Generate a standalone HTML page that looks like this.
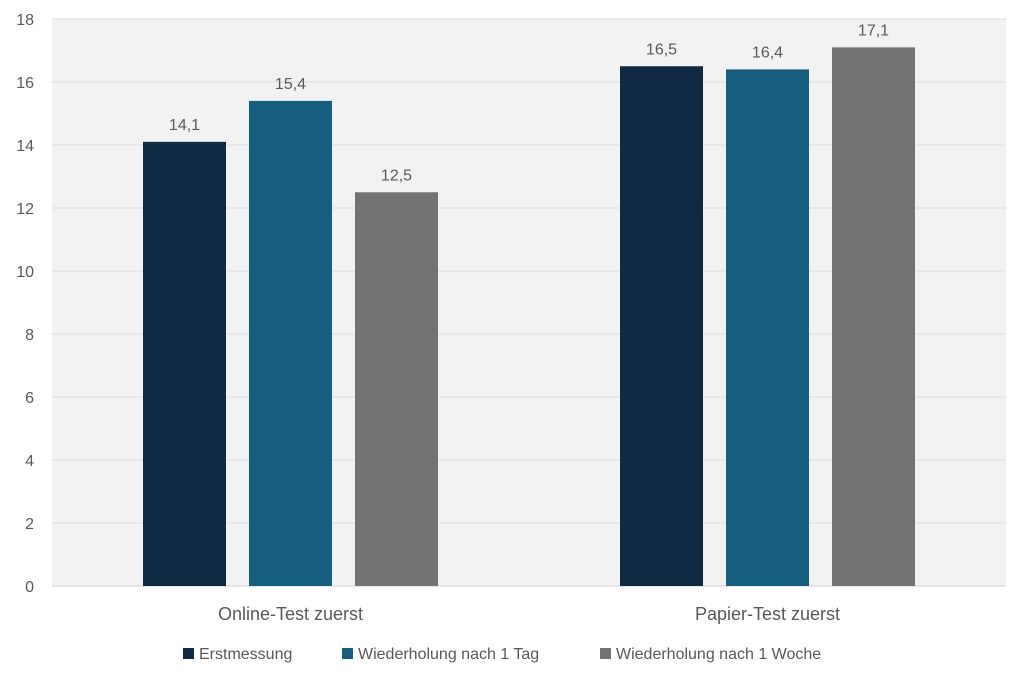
<!DOCTYPE html>
<html><head><meta charset="utf-8"><style>
body{margin:0;background:#fff;font-family:"Liberation Sans",sans-serif}
svg text{font-family:"Liberation Sans",sans-serif;fill:#595959}
</style></head><body>
<svg width="1024" height="670" id="c"></svg>
<script>
const categories=["Online-Test zuerst","Papier-Test zuerst"];
const seriesNames=["Erstmessung","Wiederholung nach 1 Tag","Wiederholung nach 1 Woche"];
const erstmessung=[14.1,16.5];
const tag=[15.4,16.4];
const woche=[12.5,17.1];
const yTicks=[0,2,4,6,8,10,12,14,16,18];
const colors=["#0f2942","#165e80","#737373"];
const svg=document.getElementById('c');
const NS="http://www.w3.org/2000/svg";
const L=52,R=1006,T=19,B=586,yMax=18;
const y=v=>B-(v/yMax)*(B-T);
const bw=(R-L)/categories.length;
const x=i=>L+bw*(i+0.5);
function mk(t,a){const e=document.createElementNS(NS,t);for(const k in a)e.setAttribute(k,a[k]);svg.appendChild(e);return e;}
let bg=mk('rect',{x:L,y:T,width:R-L,height:B-T,fill:'#f2f2f2'});


yTicks.forEach(v=>{
 let g=mk('line',{x1:L,x2:R,y1:y(v),y2:y(v),stroke:v===0?'#d0d0d0':'#dcdcdc','stroke-width':1});
 
 
 let t=mk('text',{x:34,y:y(v)+6,'text-anchor':'end','font-size':16});
 t.textContent=v;
 
 
});
const series=[erstmessung,tag,woche];
const barW=83,step=106;
categories.forEach((c,i)=>{
 series.forEach((s,j)=>{
  const cx=x(i)+(j-1)*step;
  let r=mk('rect',{x:cx-barW/2,y:y(s[i]),width:barW,height:B-y(s[i]),fill:colors[j]});
  
  
  let t=mk('text',{x:cx,y:y(s[i])-12,'text-anchor':'middle','font-size':16});
  t.textContent=s[i].toFixed(1).replace('.',',');
  
  
 });
 let t=mk('text',{x:x(i),y:620,'text-anchor':'middle','font-size':18});
 t.textContent=c;
 
 
});
const lx=[183,342,600];
seriesNames.forEach((n,j)=>{
 let r=mk('rect',{x:lx[j],y:648,width:11,height:11,fill:colors[j]});
 
 
 let t=mk('text',{x:lx[j]+16,y:659,'font-size':16});
 t.textContent=n;
 
 
});
</script>
</body></html>
